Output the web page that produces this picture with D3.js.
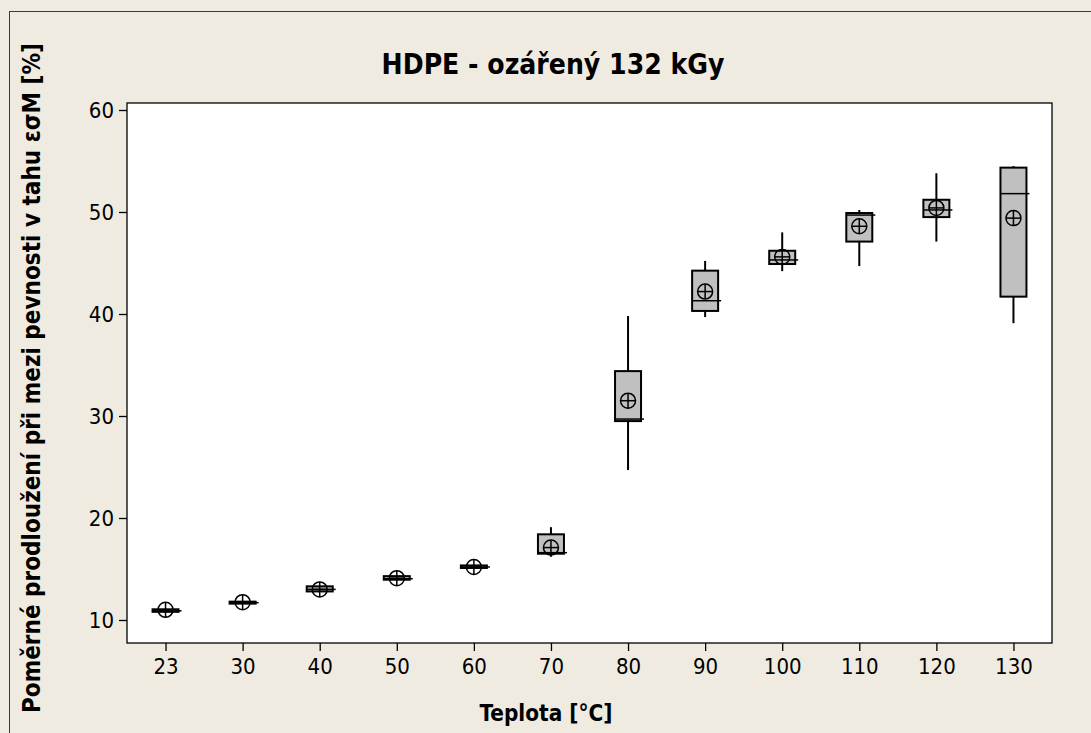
<!DOCTYPE html>
<html>
<head>
<meta charset="utf-8">
<script src="https://cdn.jsdelivr.net/npm/d3@7"></script>
<style>
  body { margin: 0; background: #efebe1; }
  svg { display: block; }
</style>
</head>
<body>
<div id="chart"></div>
<script>
const WIDTH = 1091;
const HEIGHT = 733;
const PLOT = { left: 127, right: 1052, top: 103, bottom: 643 };
const FONT = "Tahoma, 'DejaVu Sans Condensed', 'DejaVu Sans', sans-serif";

// data
const temps = ["23", "30", "40", "50", "60", "70", "80", "90", "100", "110", "120", "130"];
const whiskerLow = [10.75, 11.6, 12.8, 13.9, 15.05, 16.2, 24.7, 39.7, 44.2, 44.7, 47.1, 39.1];
const q1 = [10.8, 11.65, 12.8, 13.95, 15.1, 16.5, 29.5, 40.3, 44.9, 47.1, 49.5, 41.7];
const median = [10.9, 11.7, 13.0, 14.05, 15.2, 16.6, 29.7, 41.3, 45.3, 49.7, 50.2, 51.8];
const q3 = [11.05, 11.8, 13.3, 14.3, 15.35, 18.4, 34.4, 44.25, 46.2, 49.9, 51.2, 54.35];
const whiskerHigh = [11.1, 11.85, 13.3, 14.35, 15.4, 19.1, 39.8, 45.2, 48.0, 50.2, 53.8, 54.5];
const mean = [11.0, 11.75, 13.0, 14.1, 15.2, 17.1, 31.5, 42.2, 45.6, 48.6, 50.4, 49.4];
const yTicks = [10, 20, 30, 40, 50, 60];

const data = temps.map((t, i) => ({
  t: t, lo: whiskerLow[i], q1: q1[i], med: median[i],
  q3: q3[i], hi: whiskerHigh[i], mean: mean[i]
}));

const svg = d3.select("#chart").append("svg")
  .attr("width", WIDTH)
  .attr("height", HEIGHT);

// outer frame
svg.append("rect")
  .attr("x", 9.5).attr("y", 11.5)
  .attr("width", WIDTH + 10).attr("height", HEIGHT + 10)
  .attr("fill", "#efebe1")
  .attr("stroke", "#3a3a3a");

const xScale = d3.scalePoint()
  .domain(temps)
  .range([PLOT.left, PLOT.right])
  .padding(0.5);

const yScale = d3.scaleLinear()
  .domain([10, 60])
  .range([620, 110]);

svg.append("rect")
  .attr("x", PLOT.left).attr("y", PLOT.top)
  .attr("width", PLOT.right - PLOT.left)
  .attr("height", PLOT.bottom - PLOT.top)
  .attr("fill", "#ffffff");

// axes
const xAxis = svg.append("g")
  .attr("transform", "translate(0," + PLOT.bottom + ")")
  .call(d3.axisBottom(xScale).tickSizeInner(8).tickSizeOuter(0).tickPadding(7));

const yAxis = svg.append("g")
  .attr("transform", "translate(" + PLOT.left + ",0)")
  .call(d3.axisLeft(yScale).tickValues(yTicks).tickSizeInner(8).tickSizeOuter(0).tickPadding(5));

[xAxis, yAxis].forEach((ax) => {
  ax.select(".domain").remove();
  ax.selectAll("line").attr("stroke", "#000").attr("stroke-width", 1.3);
  ax.selectAll("text")
    .attr("font-family", FONT)
    .attr("font-size", "22px")
    .attr("fill", "#000");
});

svg.append("rect")
  .attr("x", PLOT.left).attr("y", PLOT.top)
  .attr("width", PLOT.right - PLOT.left)
  .attr("height", PLOT.bottom - PLOT.top)
  .attr("fill", "none")
  .attr("stroke", "#000")
  .attr("stroke-width", 1.3);

// boxes
const BOX_W = 26;
const g = svg.append("g");

const groups = g.selectAll("g.box")
  .data(data)
  .enter()
  .append("g")
  .attr("class", "box");

groups.append("line")
  .attr("x1", (d) => xScale(d.t)).attr("x2", (d) => xScale(d.t))
  .attr("y1", (d) => yScale(d.lo)).attr("y2", (d) => yScale(d.hi))
  .attr("stroke", "#000").attr("stroke-width", 2);

groups.append("rect")
  .attr("x", (d) => xScale(d.t) - BOX_W / 2)
  .attr("y", (d) => yScale(d.q3))
  .attr("width", BOX_W)
  .attr("height", (d) => Math.max(2, yScale(d.q1) - yScale(d.q3)))
  .attr("fill", "#c0c0c0")
  .attr("stroke", "#000")
  .attr("stroke-width", 2);

groups.append("line")
  .attr("x1", (d) => xScale(d.t) - BOX_W / 2)
  .attr("x2", (d) => xScale(d.t) + BOX_W / 2 + 3)
  .attr("y1", (d) => yScale(d.med)).attr("y2", (d) => yScale(d.med))
  .attr("stroke", "#000").attr("stroke-width", 1.5);

// mean symbols
const R = 7.5;
groups.append("circle")
  .attr("cx", (d) => xScale(d.t))
  .attr("cy", (d) => yScale(d.mean))
  .attr("r", R)
  .attr("fill", "none")
  .attr("stroke", "#000")
  .attr("stroke-width", 1.5);

groups.append("line")
  .attr("x1", (d) => xScale(d.t) - R).attr("x2", (d) => xScale(d.t) + R)
  .attr("y1", (d) => yScale(d.mean)).attr("y2", (d) => yScale(d.mean))
  .attr("stroke", "#000").attr("stroke-width", 1.5);

groups.append("line")
  .attr("x1", (d) => xScale(d.t)).attr("x2", (d) => xScale(d.t))
  .attr("y1", (d) => yScale(d.mean) - R).attr("y2", (d) => yScale(d.mean) + R)
  .attr("stroke", "#000").attr("stroke-width", 1.5);

// texts, fitted to the widths seen in the picture
function fitText(sel, target, size) {
  const w = sel.node().getComputedTextLength();
  sel.attr("font-size", (size * target / w).toFixed(2) + "px");
}

const title = svg.append("text")
  .attr("x", 553).attr("y", 74)
  .attr("text-anchor", "middle")
  .attr("font-family", FONT)
  .attr("font-weight", "bold")
  .attr("font-size", "24px")
  .text("HDPE - ozářený 132 kGy");
fitText(title, 343, 24);

const xLabel = svg.append("text")
  .attr("x", 546).attr("y", 721)
  .attr("text-anchor", "middle")
  .attr("font-family", FONT)
  .attr("font-weight", "bold")
  .attr("font-size", "20px")
  .text("Teplota [°C]");
fitText(xLabel, 133, 20);

const yLabel = svg.append("text")
  .attr("transform", "translate(40,378) rotate(-90)")
  .attr("text-anchor", "middle")
  .attr("font-family", FONT)
  .attr("font-weight", "bold")
  .attr("font-size", "20px")
  .text("Poměrné prodloužení při mezi pevnosti v tahu εσM [%]");
fitText(yLabel, 670, 20);
</script>
</body>
</html>
